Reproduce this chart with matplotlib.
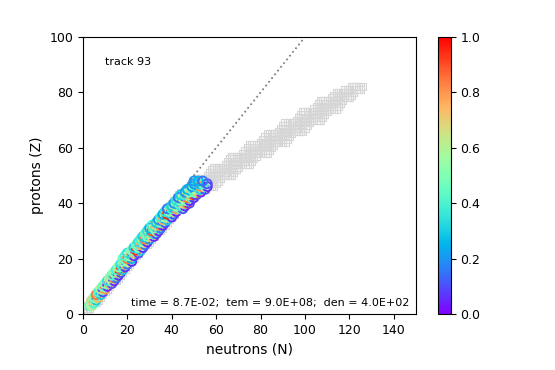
import numpy as np
import matplotlib
matplotlib.use('Agg')
import matplotlib.pyplot as plt

# network nuclei: for each Z, lowest and highest N in the network
net_z = list(range(1, 83))
net_nlo = [0, 1, 2, 3, 4, 5, 6, 8, 9, 10,
           11, 12, 13, 14, 15, 16, 17, 18, 19, 20,
           21, 22, 23, 24, 25, 26, 27, 28, 29, 30,
           31, 32, 33, 34, 35, 36, 37, 38, 39, 40,
           41, 42, 43, 44, 46, 48, 49, 50, 51, 56,
           57, 58, 59, 64, 65, 66, 67, 72, 73, 74,
           75, 80, 81, 82, 83, 88, 89, 90, 91, 96,
           97, 98, 99, 104, 105, 106, 107, 112, 113, 114,
           118, 121]
net_nhi = [2, 3, 4, 6, 7, 8, 9, 10, 11, 12,
           13, 15, 16, 17, 18, 19, 20, 21, 22, 23,
           24, 25, 26, 27, 29, 30, 31, 32, 33, 35,
           36, 37, 38, 39, 40, 41, 42, 43, 44, 46,
           47, 49, 51, 53, 55, 59, 60, 61, 62, 67,
           68, 69, 70, 75, 76, 77, 78, 83, 84, 85,
           86, 91, 92, 93, 94, 99, 100, 101, 102, 107,
           108, 109, 110, 114, 115, 116, 117, 120, 121, 122,
           125, 126]

# abundances: for each Z, the N values and the scaled abundance
abund_z = list(range(3, 49))
abund_n = [
    [3, 4], [4, 5], [4, 6], [5, 7], [6, 8], [7, 9], [8, 10], [9, 11],
    [10, 12, 13], [11, 13, 14], [12, 14, 15], [13, 15, 16], [14, 16, 17],
    [15, 17, 18], [16, 18, 19], [17, 19, 20], [18, 20, 22], [18, 20, 22],
    [19, 21, 23], [20, 23, 25], [22, 24, 26], [23, 25, 27], [24, 26, 28],
    [25, 27, 29], [26, 28, 30], [27, 29, 31, 32], [28, 30, 32, 33],
    [29, 31, 33, 34], [30, 32, 34, 35], [31, 33, 35, 36], [33, 35, 37],
    [34, 36, 38], [35, 37, 39, 40], [36, 38, 40, 41], [37, 39, 41, 42],
    [38, 40, 42, 44, 45], [40, 42, 44, 46], [41, 43, 45, 47, 48],
    [42, 44, 46, 48], [43, 45, 47, 49, 50], [44, 46, 48, 50, 51],
    [46, 48, 50, 52, 53], [47, 49, 51, 53, 55], [49, 51, 53, 55, 56],
    [50, 52, 54, 56], [50, 52, 54],
]
abund_vals = [
    [0.45, 0.6], [0.55, 0.4], [0.7, 0.3], [0.5, 0.75], [0.85, 0.3],
    [0.4, 0.1], [0.6, 0.8], [0.45, 0.05],
    [0.5, 0.75, 0.1], [0.35, 0.55, 0.05], [0.6, 0.85, 0.15],
    [0.45, 0.4, 0.05], [0.5, 0.7, 0.1], [0.4, 0.9, 0.3],
    [0.55, 0.45, 0.05], [0.35, 0.75, 0.15], [0.5, 0.6, 0.05],
    [0.45, 0.85, 0.25], [0.4, 0.55, 0.05], [0.35, 0.7, 0.1],
    [0.5, 0.95, 0.3], [0.3, 0.5, 0.05], [0.45, 0.75, 0.15],
    [0.35, 0.6, 0.05], [0.4, 0.85, 0.2],
    [0.3, 0.5, 0.7, 0.05], [0.45, 0.65, 0.35, 0.1],
    [0.35, 0.9, 0.5, 0.05], [0.25, 0.55, 0.4, 0.15],
    [0.4, 0.7, 0.85, 0.05], [0.3, 0.5, 0.1], [0.2, 0.75, 0.3],
    [0.4, 0.6, 0.45, 0.05], [0.25, 0.95, 0.35, 0.1],
    [0.35, 0.5, 0.65, 0.05], [0.15, 0.4, 0.8, 0.45, 0.1],
    [0.3, 0.55, 0.35, 0.05], [0.2, 0.45, 0.7, 0.9, 0.1],
    [0.35, 0.45, 0.5, 0.05], [0.15, 0.6, 0.85, 0.4, 0.05],
    [0.3, 0.4, 0.7, 0.95, 0.1], [0.2, 0.55, 0.45, 0.75, 0.05],
    [0.25, 0.45, 0.6, 0.3, 0.1], [0.2, 0.35, 0.8, 0.5, 0.05],
    [0.2, 0.3, 0.45, 0.1], [0.2, 0.25, 0.15],
]

track = 93
time, tem, den = 8.7e-2, 9.0e8, 4.0e2

net_n, net_zz = [], []
for z, lo, hi in zip(net_z, net_nlo, net_nhi):
    for n in range(lo, hi + 1):
        net_n.append(n)
        net_zz.append(z)

ab_n, ab_z, ab_c = [], [], []
for z, ns, vals in zip(abund_z, abund_n, abund_vals):
    for n, v in zip(ns, vals):
        ab_n.append(n)
        ab_z.append(z)
        ab_c.append(v)

fig = plt.figure(figsize=(5.55, 3.7), dpi=100)
ax = fig.add_axes([0.1495, 0.1514, 0.6, 0.7486])
cax = fig.add_axes([0.789, 0.1514, 0.0234, 0.7486])

ax.scatter(net_n, net_zz, s=26, marker='s', facecolors='none',
           edgecolors='#d6d6d6', linewidths=0.8, zorder=1)
ax.plot([0, 100], [0, 100], ':', color='gray', lw=1.3, zorder=2)
cmap = plt.get_cmap('rainbow')
# hollow circles coloured by abundance
ax.scatter(ab_n, ab_z, s=42, marker='o', facecolors='none',
           edgecolors=cmap(np.array(ab_c)), linewidths=1.3, zorder=3)

ax.set_xlim(0, 150)
ax.set_ylim(0, 100)
ax.set_xlabel('neutrons (N)', fontsize=10)
ax.set_ylabel('protons (Z)', fontsize=10)
ax.tick_params(labelsize=9)
ax.text(0.066, 0.91, f'track {track}', transform=ax.transAxes,
        fontsize=8, va='center')
ax.text(0.98, 0.04,
        f'time = {time:.1E};  tem = {tem:.1E};  den = {den:.1E}',
        transform=ax.transAxes, fontsize=8, ha='right', va='center')

sm = matplotlib.cm.ScalarMappable(cmap=cmap,
                                  norm=matplotlib.colors.Normalize(0, 1))
cb = fig.colorbar(sm, cax=cax)
cb.set_ticks([0.0, 0.2, 0.4, 0.6, 0.8, 1.0])
cb.ax.tick_params(labelsize=9)

fig.savefig('out.png', dpi=100)
